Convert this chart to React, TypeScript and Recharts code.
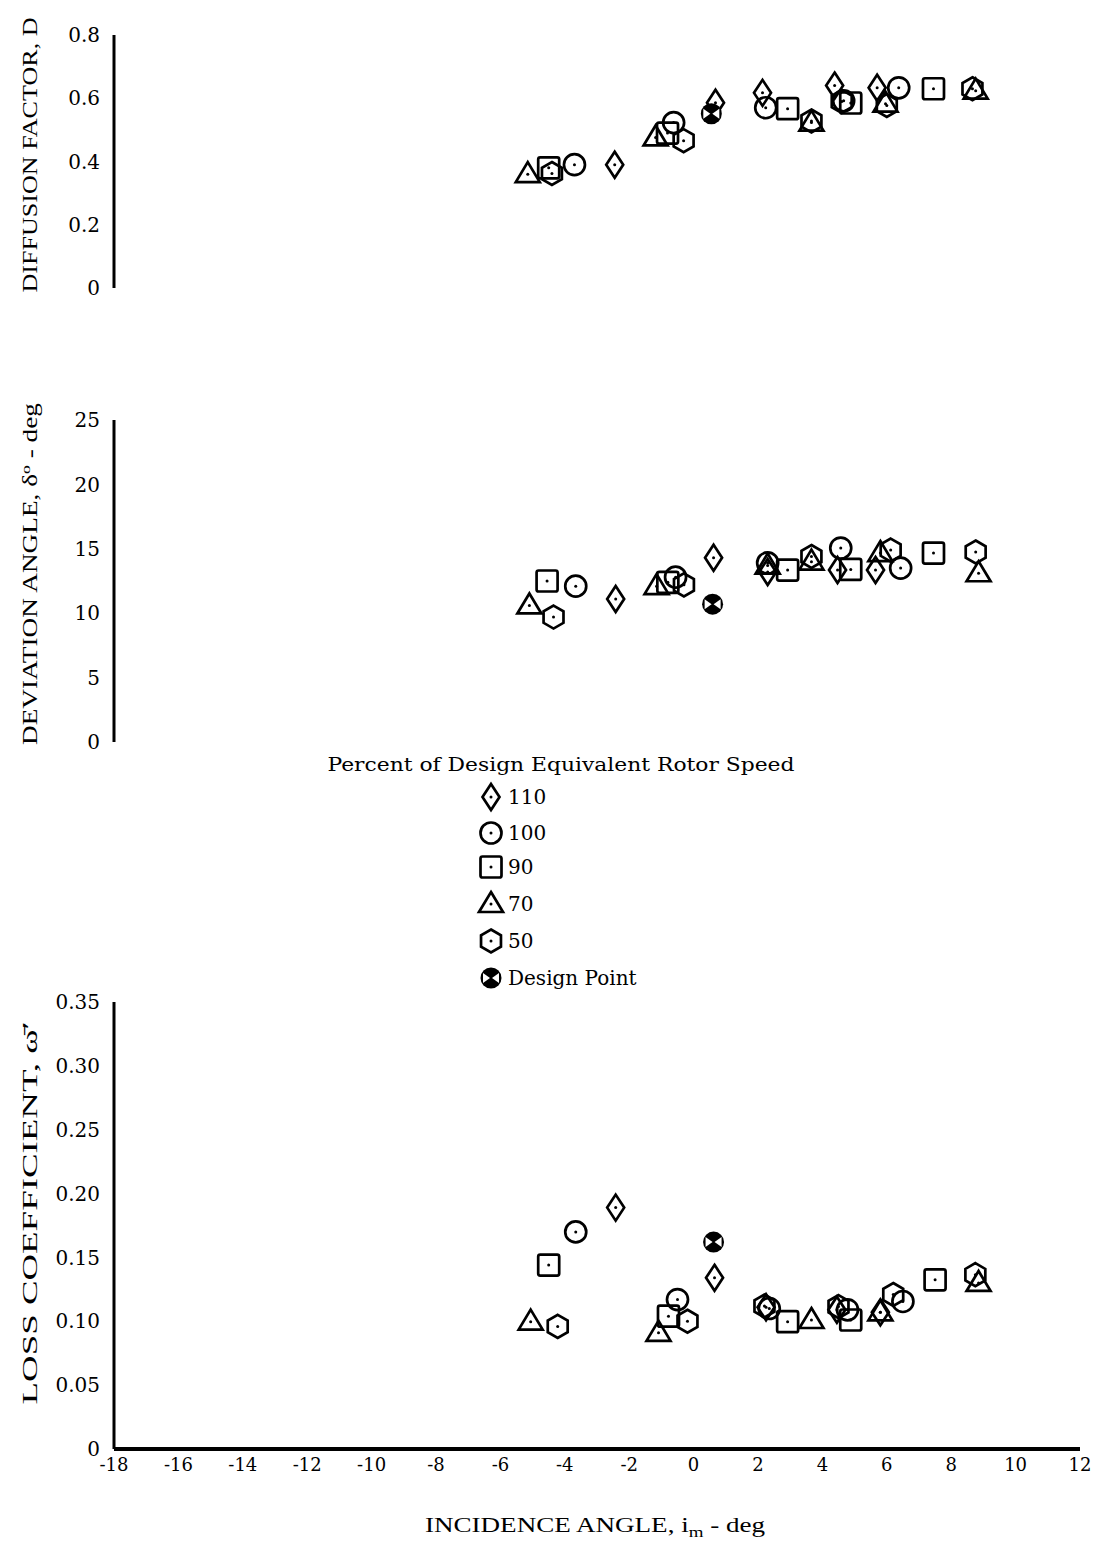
import React from "react";
import { ScatterChart, Scatter, XAxis, YAxis } from "recharts";

// incidence angle i_m (deg) vs. value
const incidenceTicks = [-18, -16, -14, -12, -10, -8, -6, -4, -2, 0, 2, 4, 6, 8, 10, 12];
const diffusionTicks = [0, 0.2, 0.4, 0.6, 0.8];
const deviationTicks = [0, 5, 10, 15, 20, 25];
const lossTicks = [0, 0.05, 0.1, 0.15, 0.2, 0.25, 0.3, 0.35];

const speedLabels = ["110", "100", "90", "70", "50"];

// diffusion factor D
const diffusion110 = [{ i: -2.45, v: 0.39 }, { i: 0.68, v: 0.586 }, { i: 2.14, v: 0.617 }, { i: 4.38, v: 0.64 }, { i: 5.7, v: 0.633 }];
const diffusion100 = [{ i: -3.7, v: 0.39 }, { i: -0.62, v: 0.523 }, { i: 2.24, v: 0.57 }, { i: 4.66, v: 0.592 }, { i: 6.37, v: 0.633 }];
const diffusion90 = [{ i: -4.5, v: 0.38 }, { i: -0.81, v: 0.49 }, { i: 2.92, v: 0.567 }, { i: 4.88, v: 0.585 }, { i: 7.45, v: 0.63 }];
const diffusion70 = [{ i: -5.15, v: 0.36 }, { i: -1.18, v: 0.476 }, { i: 3.66, v: 0.523 }, { i: 5.96, v: 0.583 }, { i: 8.76, v: 0.624 }];
const diffusion50 = [{ i: -4.4, v: 0.362 }, { i: -0.31, v: 0.466 }, { i: 3.66, v: 0.528 }, { i: 4.6, v: 0.59 }, { i: 6.0, v: 0.577 }, { i: 8.66, v: 0.63 }];
const diffusionDesign = [{ i: 0.55, v: 0.551 }];

// deviation angle, deg
const deviation110 = [{ i: -2.42, v: 11.1 }, { i: 0.62, v: 14.3 }, { i: 2.3, v: 13.2 }, { i: 4.47, v: 13.35 }, { i: 5.65, v: 13.35 }];
const deviation100 = [{ i: -3.66, v: 12.1 }, { i: -0.56, v: 12.8 }, { i: 2.3, v: 13.9 }, { i: 4.57, v: 15.06 }, { i: 6.43, v: 13.5 }];
const deviation90 = [{ i: -4.55, v: 12.5 }, { i: -0.8, v: 12.4 }, { i: 2.92, v: 13.35 }, { i: 4.88, v: 13.4 }, { i: 7.45, v: 14.67 }];
const deviation70 = [{ i: -5.1, v: 10.6 }, { i: -1.15, v: 12.1 }, { i: 2.3, v: 13.7 }, { i: 3.66, v: 14.0 }, { i: 5.8, v: 14.67 }, { i: 8.85, v: 13.1 }];
const deviation50 = [{ i: -4.35, v: 9.7 }, { i: -0.3, v: 12.2 }, { i: 3.66, v: 14.4 }, { i: 6.12, v: 14.9 }, { i: 8.76, v: 14.75 }];
const deviationDesign = [{ i: 0.59, v: 10.7 }];

// loss coefficient
const loss110 = [{ i: -2.42, v: 0.189 }, { i: 0.65, v: 0.134 }, { i: 2.25, v: 0.111 }, { i: 4.45, v: 0.109 }, { i: 5.8, v: 0.107 }];
const loss100 = [{ i: -3.66, v: 0.17 }, { i: -0.5, v: 0.117 }, { i: 2.35, v: 0.11 }, { i: 4.78, v: 0.109 }, { i: 6.5, v: 0.1155 }];
const loss90 = [{ i: -4.5, v: 0.144 }, { i: -0.78, v: 0.104 }, { i: 2.92, v: 0.0997 }, { i: 4.88, v: 0.101 }, { i: 7.5, v: 0.1325 }];
const loss70 = [{ i: -5.06, v: 0.0997 }, { i: -1.09, v: 0.091 }, { i: 3.66, v: 0.101 }, { i: 5.8, v: 0.107 }, { i: 8.85, v: 0.13 }];
const loss50 = [{ i: -4.22, v: 0.096 }, { i: -0.19, v: 0.1 }, { i: 2.2, v: 0.112 }, { i: 4.5, v: 0.1115 }, { i: 6.2, v: 0.121 }, { i: 8.75, v: 0.1365 }];
const lossDesign = [{ i: 0.62, v: 0.162 }];

const SERIF = "'DejaVu Serif', serif";
const TITLE = "'Liberation Serif', serif";
const kinds = ["diamond", "circle", "square", "triangle", "hexagon"];

function Marker({ kind, cx, cy }: { kind: string; cx: number; cy: number }) {
  const st = { fill: "none", stroke: "#000", strokeWidth: 2.7 };
  const dot = <circle cx={cx} cy={cy} r={1.5} fill="#000" />;
  if (kind === "diamond")
    return (
      <g>
        <polygon {...st} points={`${cx},${cy - 13} ${cx + 8.5},${cy} ${cx},${cy + 13} ${cx - 8.5},${cy}`} />
        {dot}
      </g>
    );
  if (kind === "circle")
    return (
      <g>
        <circle {...st} cx={cx} cy={cy} r={10.5} />
        {dot}
      </g>
    );
  if (kind === "square")
    return (
      <g>
        <rect {...st} x={cx - 10.5} y={cy - 10.5} width={21} height={21} rx={2} />
        {dot}
      </g>
    );
  if (kind === "triangle")
    return (
      <g>
        <polygon {...st} points={`${cx},${cy - 12} ${cx + 12},${cy + 8} ${cx - 12},${cy + 8}`} />
        {dot}
      </g>
    );
  if (kind === "hexagon") {
    const r = 11.5;
    const pts = [0, 1, 2, 3, 4, 5]
      .map((k) => {
        const a = (Math.PI / 3) * k - Math.PI / 2;
        return `${cx + r * Math.cos(a)},${cy + r * Math.sin(a)}`;
      })
      .join(" ");
    return (
      <g>
        <polygon {...st} points={pts} />
        {dot}
      </g>
    );
  }
  // design point
  return (
    <g>
      <circle cx={cx} cy={cy} r={10.5} fill="#000" />
      <polygon points={`${cx - 1},${cy} ${cx - 8},${cy - 5} ${cx - 8},${cy + 5}`} fill="#fff" />
      <polygon points={`${cx + 1},${cy} ${cx + 8},${cy - 5} ${cx + 8},${cy + 5}`} fill="#fff" />
    </g>
  );
}

const shapeOf = (kind: string) => (p: any) => <Marker kind={kind} cx={p.cx} cy={p.cy} />;

const xTickStyle = { fill: "#000", fontSize: 18, fontFamily: SERIF };
const yTickStyle = { fill: "#000", fontSize: 20, fontFamily: SERIF };
const axisLine = { stroke: "#000", strokeWidth: 3 };

function Panel(props: {
  top: number;
  height: number;
  mTop: number;
  mBottom: number;
  domain: number[];
  ticks: number[];
  fmt: (v: number) => string;
  series: { i: number; v: number }[][];
  design: { i: number; v: number }[];
  showX?: boolean;
}) {
  const { top, height, mTop, mBottom, domain, ticks, fmt, series, design, showX } = props;
  return (
    <div style={{ position: "absolute", left: 0, top }}>
      <ScatterChart width={1104} height={height} margin={{ top: mTop, right: 24, bottom: mBottom, left: 0 }}>
        <XAxis
          type="number"
          dataKey="i"
          domain={[-18, 12]}
          ticks={incidenceTicks}
          interval={0}
          hide={!showX}
          height={showX ? 90 : 0}
          axisLine={{ stroke: "#000", strokeWidth: 4 }}
          tickLine={false}
          tickSize={6}
          tickMargin={3}
          tick={xTickStyle}
        />
        <YAxis
          type="number"
          dataKey="v"
          width={114}
          domain={domain}
          ticks={ticks}
          interval={0}
          tickFormatter={fmt}
          axisLine={axisLine}
          tickLine={false}
          tickSize={8}
          tickMargin={6}
          tick={yTickStyle}
        />
        {series.map((d, k) => (
          <Scatter key={k} data={d} shape={shapeOf(kinds[k])} isAnimationActive={false} />
        ))}
        <Scatter data={design} shape={shapeOf("design")} isAnimationActive={false} />
      </ScatterChart>
    </div>
  );
}

export default function App() {
  const legendRows = [797, 833, 867, 904, 941];
  return (
    <div style={{ position: "absolute", left: 0, top: 0, width: 1104, height: 1547, background: "#fff" }}>
      <Panel
        top={0}
        height={310}
        mTop={35}
        mBottom={22}
        domain={[0, 0.8]}
        ticks={diffusionTicks}
        fmt={(v) => (v === 0 ? "0" : v.toFixed(1))}
        series={[diffusion110, diffusion100, diffusion90, diffusion70, diffusion50]}
        design={diffusionDesign}
      />
      <Panel
        top={390}
        height={370}
        mTop={30}
        mBottom={18}
        domain={[0, 25]}
        ticks={deviationTicks}
        fmt={(v) => String(v)}
        series={[deviation110, deviation100, deviation90, deviation70, deviation50]}
        design={deviationDesign}
      />
      <Panel
        top={980}
        height={567}
        mTop={22}
        mBottom={8}
        domain={[0, 0.35]}
        ticks={lossTicks}
        fmt={(v) => (v === 0 ? "0" : v.toFixed(2))}
        series={[loss110, loss100, loss90, loss70, loss50]}
        design={lossDesign}
        showX
      />
      <svg width={1104} height={1547} style={{ position: "absolute", left: 0, top: 0, pointerEvents: "none" }}>
        <g fontFamily={TITLE} fontSize={20} fill="#000">
          <text transform="translate(37,155) rotate(-90)" textAnchor="middle" textLength={275} lengthAdjust="spacingAndGlyphs">
            DIFFUSION FACTOR, D
          </text>
          <text transform="translate(37,574) rotate(-90)" textAnchor="middle" textLength={342} lengthAdjust="spacingAndGlyphs">
            DEVIATION ANGLE, δ<tspan dy={-7} fontSize={13}>o</tspan>
            <tspan dy={7}> - deg</tspan>
          </text>
          <text transform="translate(37,1213) rotate(-90)" textAnchor="middle" textLength={383} lengthAdjust="spacingAndGlyphs">
            LOSS COEFFICIENT, ω̄′
          </text>
          <text x={595} y={1532} textAnchor="middle" textLength={340} lengthAdjust="spacingAndGlyphs">
            INCIDENCE ANGLE, i<tspan dy={5} fontSize={14}>m</tspan>
            <tspan dy={-5}> - deg</tspan>
          </text>
        </g>
        <g fontFamily={SERIF} fill="#000">
          <text x={561} y={771} textAnchor="middle" fontSize={19} textLength={467} lengthAdjust="spacingAndGlyphs">
            Percent of Design Equivalent Rotor Speed
          </text>
          {speedLabels.map((s, k) => (
            <g key={s}>
              <Marker kind={kinds[k]} cx={491} cy={legendRows[k]} />
              <text x={508} y={legendRows[k] + 7} fontSize={20}>
                {s}
              </text>
            </g>
          ))}
          <Marker kind="design" cx={491} cy={978} />
          <text x={508} y={985} fontSize={20}>
            Design Point
          </text>
        </g>
      </svg>
    </div>
  );
}
